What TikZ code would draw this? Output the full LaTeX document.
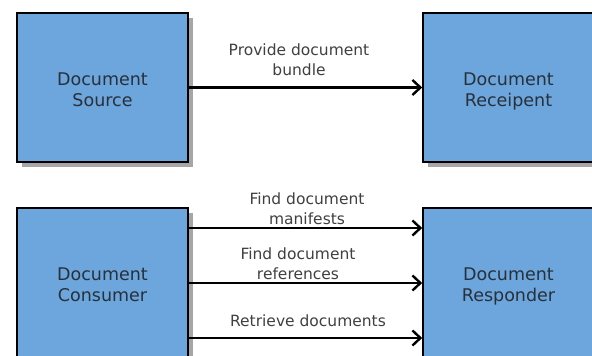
\documentclass[tikz,border=0pt]{standalone}
\usepackage{fontspec}
\setmainfont{DejaVu Sans}
\usetikzlibrary{arrows.meta,shadows,calc}
\definecolor{boxblue}{RGB}{108,166,220}
\definecolor{boxtext}{RGB}{40,48,58}
\definecolor{labtext}{RGB}{64,64,64}
\newcommand\mytopgap{\rule{0pt}{23pt}}
\begin{document}
\begin{tikzpicture}[x=1pt,y=-1pt,
  actor/.style={draw=black, line width=1.6pt, fill=boxblue, minimum width=171pt, minimum height=149pt,
    inner sep=0pt, align=center, text=boxtext, font=\fontsize{17.5}{21}\selectfont,
    execute at end node=\strut,
    drop shadow={shadow xshift=4.5pt, shadow yshift=-4.5pt, fill=black!35, opacity=1}},
  lab/.style={align=center, text=labtext, font=\fontsize{15.5}{20}\selectfont, inner sep=0pt},
  arr/.style={line width=2.4pt, -{Straight Barb[length=8pt,width=15pt,line width=2.4pt]}}]
\useasboundingbox (0,0) rectangle (592,356);
\clip (0,0) rectangle (592,356);
\fill[white] (0,0) rectangle (592,356);
\node[actor] (src) at (102.5,87.5) {\mytopgap Document\\Source};
\node[actor] (rec) at (508.5,87.5) {\mytopgap Document\\Receipent};
\node[actor] (con) at (102.5,282.5) {\mytopgap Document\\Consumer};
\node[actor] (rsp) at (508.5,282.5) {\mytopgap Document\\Responder};
\draw[arr] (src.east) -- (rec.west);
\draw[arr] (con.east |- 0,228) -- (rsp.west |- 0,228);
\draw[arr] (con.east |- 0,283) -- (rsp.west |- 0,283);
\draw[arr] (con.east |- 0,338) -- (rsp.west |- 0,338);
\node[lab] (l1) at (299,60) {Provide document\\bundle};
\node[lab] (l2) at (307,209) {Find document\\manifests};
\node[lab] (l3) at (298,264) {Find document\\references};
\node[lab] (l4) at (308,321) {Retrieve documents};
\end{tikzpicture}
\end{document}
